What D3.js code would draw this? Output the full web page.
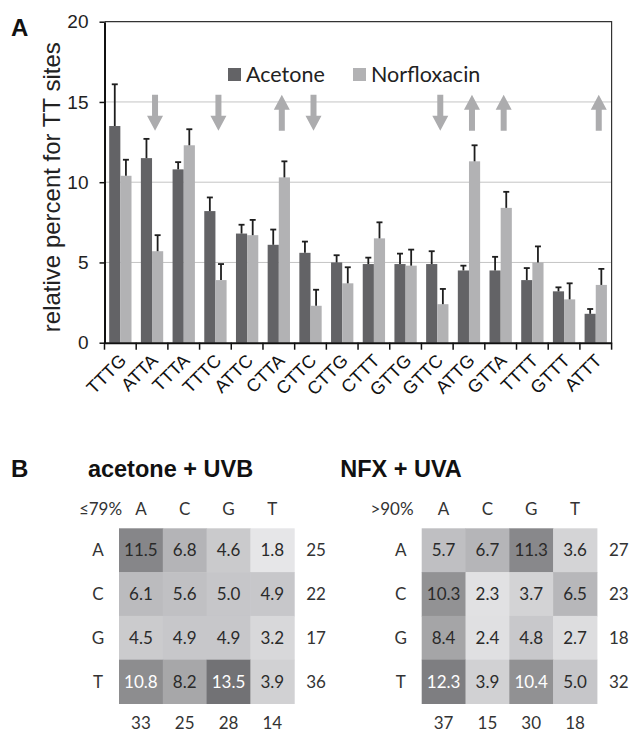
<!DOCTYPE html>
<html>
<head>
<meta charset="utf-8">
<script src="https://cdn.jsdelivr.net/npm/d3@7"></script>
<style>
  body { margin: 0; background: #fff; }
  svg { display: block; }
</style>
</head>
<body>
<div id="chart"></div>
<script>
// ---- panel A data ----
const sites = ["TTTG", "ATTA", "TTTA", "TTTC", "ATTC", "CTTA", "CTTC", "CTTG",
    "CTTT", "GTTG", "GTTC", "ATTG", "GTTA", "TTTT", "GTTT", "ATTT"];
const acetone = [13.5, 11.5, 10.8, 8.2, 6.8, 6.1, 5.6, 5.0, 4.9, 4.9, 4.9, 4.5, 4.5, 3.9, 3.2, 1.8];
const acetoneErr = [2.6, 1.2, 0.45, 0.85, 0.55, 0.95, 0.7, 0.45, 0.4, 0.65, 0.8, 0.3, 0.85, 0.75, 0.25, 0.3];
const norfloxacin = [10.4, 5.7, 12.3, 3.9, 6.7, 10.3, 2.3, 3.7, 6.5, 4.8, 2.4, 11.3, 8.4, 5.0, 2.7, 3.6];
const norfloxacinErr = [1.0, 1.0, 1.0, 1.0, 0.95, 1.0, 1.0, 1.0, 1.0, 1.0, 0.95, 1.0, 1.0, 1.0, 1.0, 1.0];
const arrowSites = ["ATTA", "TTTC", "CTTA", "CTTC", "GTTC", "ATTG", "GTTA", "ATTT"];
const arrowDirs = ["down", "down", "up", "down", "down", "up", "up", "up"];
const yTicks = [0, 5, 10, 15, 20];

// ---- panel B data ----
const bases = ["A", "C", "G", "T"];
const acetoneMatrix = [
    [11.5, 6.8, 4.6, 1.8],
    [6.1, 5.6, 5.0, 4.9],
    [4.5, 4.9, 4.9, 3.2],
    [10.8, 8.2, 13.5, 3.9]
];
const acetoneRowSums = [25, 22, 17, 36];
const acetoneColSums = [33, 25, 28, 14];
const nfxMatrix = [
    [5.7, 6.7, 11.3, 3.6],
    [10.3, 2.3, 3.7, 6.5],
    [8.4, 2.4, 4.8, 2.7],
    [12.3, 3.9, 10.4, 5.0]
];
const nfxRowSums = [27, 23, 18, 32];
const nfxColSums = [37, 15, 30, 18];

const W = 630, H = 733;
const arial = "'Liberation Sans', Arial, sans-serif";
const soft = "Lato, 'Open Sans', sans-serif";
const darkBar = "#636366", lightBar = "#b2b2b4", arrowColor = "#acacae";

const svg = d3.select("#chart").append("svg")
    .attr("width", W).attr("height", H);

// ================= Panel A =================
const m = {left: 104.5, top: 21.7, right: 611.6, bottom: 342.7};

const x0 = d3.scaleBand().domain(sites).range([m.left, m.right]);
const x1 = d3.scaleBand().domain([0, 1]).range([0, x0.bandwidth()]).paddingOuter(0.42);
const y = d3.scaleLinear().domain([0, 20]).range([m.bottom, m.top]);

// gridlines
svg.append("g").selectAll("line")
    .data(yTicks.filter(d => d > 0 && d < 20))
    .join("line")
    .attr("x1", m.left).attr("x2", m.right)
    .attr("y1", d => y(d)).attr("y2", d => y(d))
    .attr("stroke", "#c4c4c4").attr("stroke-width", 1);

// frame top + right
svg.append("path")
    .attr("d", `M${m.left},${m.top}H${m.right}V${m.bottom}`)
    .attr("fill", "none").attr("stroke", "#333").attr("stroke-width", 1.2);

// bars
const series = [
    {vals: acetone, err: acetoneErr, color: darkBar},
    {vals: norfloxacin, err: norfloxacinErr, color: lightBar}
];
series.forEach((s, si) => {
    const g = svg.append("g");
    g.selectAll("rect").data(sites).join("rect")
        .attr("x", (d, i) => x0(d) + x1(si))
        .attr("y", (d, i) => y(s.vals[i]))
        .attr("width", x1.bandwidth())
        .attr("height", (d, i) => y(0) - y(s.vals[i]))
        .attr("fill", s.color);
    // error bars
    const eb = g.selectAll("g.err").data(sites).join("g").attr("class", "err");
    eb.append("line")
        .attr("x1", d => x0(d) + x1(si) + x1.bandwidth() / 2)
        .attr("x2", d => x0(d) + x1(si) + x1.bandwidth() / 2)
        .attr("y1", (d, i) => y(s.vals[i]))
        .attr("y2", (d, i) => y(s.vals[i] + s.err[i]))
        .attr("stroke", "#1e1e1e").attr("stroke-width", 1.8);
    eb.append("line")
        .attr("x1", d => x0(d) + x1(si) + x1.bandwidth() / 2 - 3)
        .attr("x2", d => x0(d) + x1(si) + x1.bandwidth() / 2 + 3)
        .attr("y1", (d, i) => y(s.vals[i] + s.err[i]))
        .attr("y2", (d, i) => y(s.vals[i] + s.err[i]))
        .attr("stroke", "#1e1e1e").attr("stroke-width", 1.8);
});

// arrows
const arrowTop = y(15.45), arrowBot = y(13.2);
const headLen = 15, headW = 8, shaftW = 3;
svg.append("g").selectAll("path")
    .data(arrowSites.map((s, i) => ({site: s, dir: arrowDirs[i]})))
    .join("path")
    .attr("d", d => {
        const cx = x0(d.site) + x0.bandwidth() / 2 + 3;
        if (d.dir === "down") {
            const hb = arrowBot - headLen;
            return `M${cx - shaftW},${arrowTop}H${cx + shaftW}V${hb}H${cx + headW}L${cx},${arrowBot}L${cx - headW},${hb}H${cx - shaftW}Z`;
        }
        const hb = arrowTop + headLen;
        return `M${cx - shaftW},${arrowBot}H${cx + shaftW}V${hb}H${cx + headW}L${cx},${arrowTop}L${cx - headW},${hb}H${cx - shaftW}Z`;
    })
    .attr("fill", arrowColor);

// y axis
const yAxis = svg.append("g")
    .attr("transform", `translate(${m.left},0)`)
    .call(d3.axisLeft(y).tickValues(yTicks).tickSize(5).tickSizeOuter(0).tickPadding(11));
yAxis.select(".domain").attr("stroke", "#111").attr("stroke-width", 2);
yAxis.selectAll(".tick line").attr("stroke", "#111").attr("stroke-width", 1.5);
yAxis.selectAll(".tick text")
    .attr("font-family", arial).attr("font-size", 19).attr("fill", "#222");

// x axis
const xAxis = svg.append("g")
    .attr("transform", `translate(0,${m.bottom})`)
    .call(d3.axisBottom(x0).tickSize(0).tickSizeOuter(0).tickPadding(0));
xAxis.select(".domain").attr("stroke", "#111").attr("stroke-width", 2);
xAxis.selectAll(".tick text")
    .attr("font-family", arial).attr("font-size", 18).attr("fill", "#111")
    .attr("text-anchor", "end")
    .attr("dy", 0)
    .attr("transform", "translate(7,19) rotate(-45)");
// boundary ticks
xAxis.append("g").selectAll("line")
    .data(sites.map(s => x0(s)).concat([m.right]))
    .join("line")
    .attr("x1", d => d).attr("x2", d => d)
    .attr("y1", 0).attr("y2", 7)
    .attr("stroke", "#111").attr("stroke-width", 1.5);

// y title
svg.append("text")
    .attr("transform", `translate(60,${(m.top + m.bottom) / 2 + 5}) rotate(-90)`)
    .attr("text-anchor", "middle")
    .attr("font-family", arial).attr("font-size", 24).attr("fill", "#222")
    .text("relative percent for TT sites");

// legend
const legend = [
    {name: "Acetone", color: darkBar, x: 228},
    {name: "Norfloxacin", color: lightBar, x: 353}
];
const lg = svg.append("g").selectAll("g").data(legend).join("g")
    .attr("transform", d => `translate(${d.x},68)`);
lg.append("rect").attr("width", 13).attr("height", 13).attr("fill", d => d.color);
lg.append("text").attr("x", 18).attr("y", 14)
    .attr("font-family", soft).attr("font-size", 21.5).attr("fill", "#222")
    .text(d => d.name);

// panel letters
svg.append("text").attr("x", 11).attr("y", 36)
    .attr("font-family", arial).attr("font-weight", "bold").attr("font-size", 24)
    .attr("fill", "#111").text("A");
svg.append("text").attr("x", 11).attr("y", 477)
    .attr("font-family", arial).attr("font-weight", "bold").attr("font-size", 24)
    .attr("fill", "#111").text("B");

// ================= Panel B =================
const shade = d3.scaleLinear().domain([1.5, 14]).range(["#e9e9eb", "#6d6d70"]);
// cells whose label is printed in white
const whiteLabels = [["acetone", 3, 0], ["acetone", 3, 2], ["nfx", 3, 0], ["nfx", 3, 2]];

function heatmap(key, title, titleX, corner, cornerX, mat, rowSums, colSums, gx) {
    const cell = 43.8, gy = 528.3;
    const cx = d3.scaleBand().domain(bases).range([gx, gx + 4 * cell]);
    const cy = d3.scaleBand().domain(bases).range([gy, gy + 4 * cell]);
    const g = svg.append("g");

    g.append("text").attr("x", titleX).attr("y", 477)
        .attr("text-anchor", "middle")
        .attr("font-family", arial).attr("font-weight", "bold").attr("font-size", 23.5)
        .attr("fill", "#111").text(title);

    const cells = [];
    mat.forEach((row, r) => row.forEach((v, c) => cells.push({r, c, v})));

    g.selectAll("rect").data(cells).join("rect")
        .attr("x", d => cx(bases[d.c])).attr("y", d => cy(bases[d.r]))
        .attr("width", cx.bandwidth() + 0.5).attr("height", cy.bandwidth() + 0.5)
        .attr("fill", d => shade(d.v));

    g.selectAll("text.val").data(cells).join("text").attr("class", "val")
        .attr("x", d => cx(bases[d.c]) + cx.bandwidth() / 2)
        .attr("y", d => cy(bases[d.r]) + cy.bandwidth() / 2 + 6)
        .attr("text-anchor", "middle")
        .attr("font-family", soft).attr("font-size", 17)
        .attr("fill", d => whiteLabels.some(w => w[0] === key && w[1] === d.r && w[2] === d.c) ? "#fff" : "#2a2a2a")
        .text(d => d.v.toFixed(1));

    const lab = {"font-family": soft, "font-size": 17, "fill": "#333"};
    const setAttrs = (sel) => { Object.entries(lab).forEach(([k, v]) => sel.attr(k, v)); return sel; };

    // column headers
    setAttrs(g.selectAll("text.colh").data(bases).join("text").attr("class", "colh")
        .attr("x", d => cx(d) + cx.bandwidth() / 2).attr("y", 515)
        .attr("text-anchor", "middle").text(d => d));
    // corner label
    setAttrs(g.append("text").attr("x", cornerX).attr("y", 515)
        .attr("text-anchor", "middle").text(corner));
    // row labels
    setAttrs(g.selectAll("text.rowh").data(bases).join("text").attr("class", "rowh")
        .attr("x", gx - 21).attr("y", d => cy(d) + cy.bandwidth() / 2 + 6)
        .attr("text-anchor", "middle").text(d => d));
    // row sums
    setAttrs(g.selectAll("text.rows").data(rowSums).join("text").attr("class", "rows")
        .attr("x", gx + 4 * cell + 12).attr("y", (d, i) => cy(bases[i]) + cy.bandwidth() / 2 + 6)
        .text(d => d));
    // column sums
    setAttrs(g.selectAll("text.cols").data(colSums).join("text").attr("class", "cols")
        .attr("x", (d, i) => cx(bases[i]) + cx.bandwidth() / 2).attr("y", 729)
        .attr("text-anchor", "middle").text(d => d));
}

heatmap("acetone", "acetone + UVB", 170.5, "≤79%", 100.5, acetoneMatrix, acetoneRowSums, acetoneColSums, 119);
heatmap("nfx", "NFX + UVA", 401, ">90%", 392, nfxMatrix, nfxRowSums, nfxColSums, 421.7);
</script>
</body>
</html>
